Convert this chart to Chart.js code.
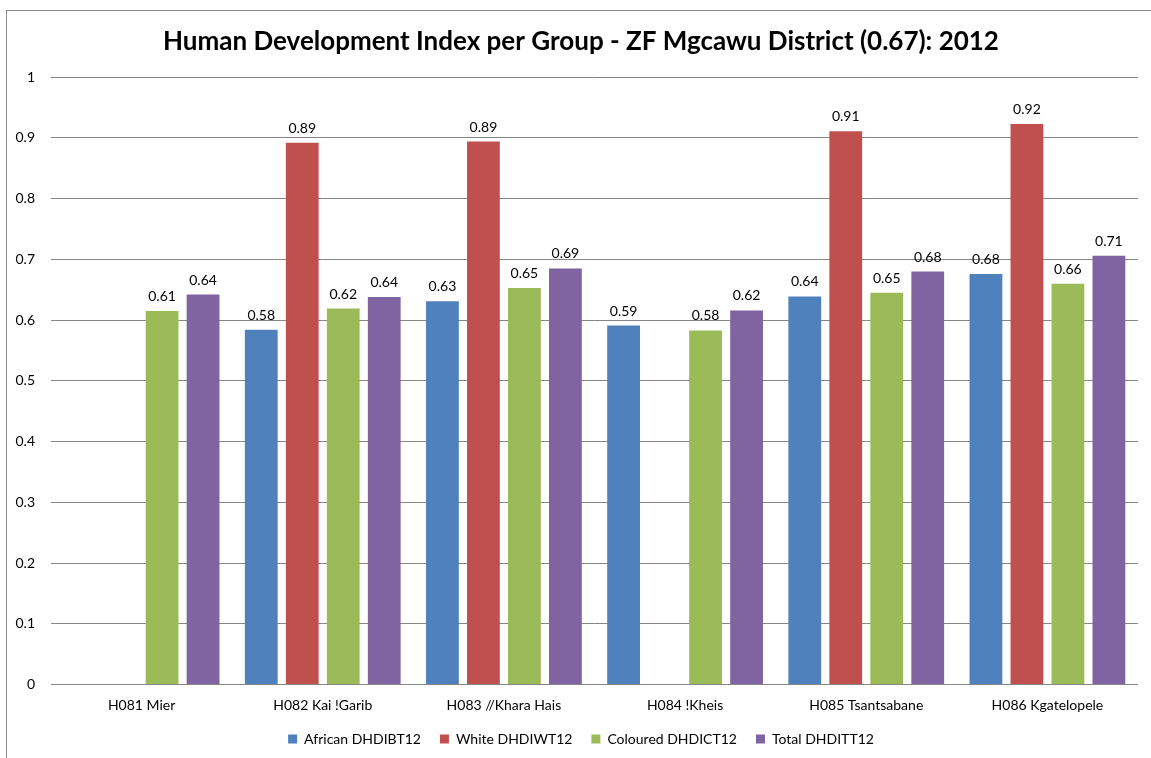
<!DOCTYPE html>
<html>
<head>
<meta charset="utf-8">
<script src="https://cdn.jsdelivr.net/npm/chart.js@4.4.0/dist/chart.umd.min.js"></script>
<style>
  html, body { margin: 0; padding: 0; background: #fff; overflow: hidden; width: 1151px; height: 758px; }
  #frame {
    position: absolute; left: 6px; top: 10px;
    width: 1150px; height: 770px;
    border: 1px solid #8c8c8c; background: #fff;
  }
  #frame canvas { display: block; }
</style>
</head>
<body>
<div id="frame"><canvas id="chart" width="1148" height="745"></canvas></div>
<script>
/* HDI per group – ZF Mgcawu District, 2012 */
const CATEGORIES = ['H081 Mier', 'H082 Kai !Garib', 'H083 //Khara Hais', 'H084 !Kheis', 'H085 Tsantsabane', 'H086 Kgatelopele'];

const AFRICAN   = [null,  0.584, 0.631, 0.591, 0.639, 0.676];
const WHITE     = [null,  0.892, 0.894, null,  0.911, 0.923];
const COLOURED  = [0.615, 0.619, 0.653, 0.583, 0.645, 0.660];
const TOTAL     = [0.642, 0.638, 0.685, 0.616, 0.680, 0.706];

const SERIES_NAMES = ['African DHDIBT12', 'White DHDIWT12', 'Coloured DHDICT12', 'Total DHDITT12'];
const COLORS = ['#4f81bd', '#c0504d', '#9bbb59', '#8064a2'];

const FONT = 'Lato, "Open Sans", sans-serif';
Chart.defaults.font.family = FONT;
Chart.defaults.font.size = 14;
Chart.defaults.color = '#000';

/* ── value labels above bars ──────────────────────────────────────── */
const valueLabels = {
  id: 'valueLabels',
  afterDatasetsDraw(chart) {
    const ctx = chart.ctx;
    ctx.save();
    ctx.font = '14px ' + FONT;
    ctx.fillStyle = '#000';
    ctx.textAlign = 'center';
    ctx.textBaseline = 'alphabetic';
    chart.data.datasets.forEach((ds, i) => {
      chart.getDatasetMeta(i).data.forEach((bar, j) => {
        const v = ds.data[j];
        if (v == null) return;
        ctx.fillText(v.toFixed(2), bar.x, bar.y - 10);
      });
    });
    ctx.restore();
  }
};

// widen the tick label boxes so labels are not clipped by their scale box
const noTickClip = {
  id: 'noTickClip',
  afterLayout(chart) {
    chart.scales.y.left = 0;
    chart.scales.x.bottom = chart.height;
  }
};

const seriesData = [AFRICAN, WHITE, COLOURED, TOTAL];

new Chart(document.getElementById('chart'), {
  type: 'bar',
  data: {
    labels: CATEGORIES,
    datasets: seriesData.map((d, i) => ({
      label: SERIES_NAMES[i],
      data: d,
      backgroundColor: COLORS[i],
      borderWidth: 0,
      categoryPercentage: 0.905,
      barPercentage: 0.8,
    }))
  },
  options: {
    responsive: false,
    animation: false,
    layout: { padding: { left: 17, right: 17, top: 0, bottom: 0 } },
    plugins: {
      title: {
        display: true,
        text: 'Human Development Index per Group - ZF Mgcawu District (0.67): 2012',
        color: '#000',
        font: { size: 26, weight: 'bold', family: FONT },
        padding: { top: 15, bottom: 20 }
      },
      legend: {
        position: 'bottom',
        labels: { boxWidth: 9, boxHeight: 9, padding: 19, color: '#000', font: { size: 14 } }
      },
      tooltip: { enabled: false }
    },
    scales: {
      x: {
        grid: { display: false, drawTicks: false },
        border: { display: false },
        ticks: { padding: 13, maxRotation: 0 },
        afterFit: s => { s.height = 28.5; }
      },
      y: {
        min: 0,
        max: 1,
        ticks: { stepSize: 0.1, padding: 16, callback: v => +v.toFixed(1) },
        grid: { color: '#868686', lineWidth: 1, drawTicks: false },
        border: { display: false },
        afterFit: s => { s.width = 27; }
      }
    }
  },
  plugins: [valueLabels, noTickClip]
});
</script>
</body>
</html>
